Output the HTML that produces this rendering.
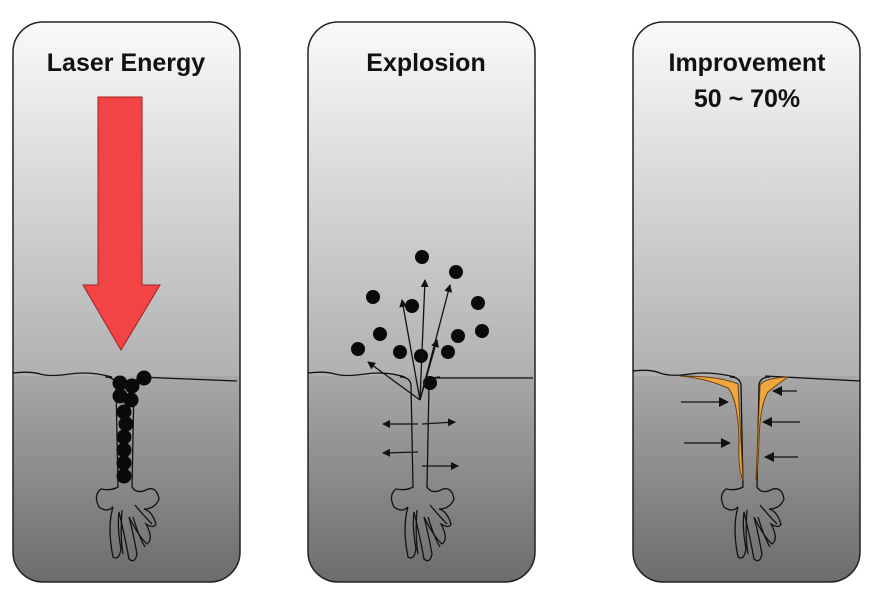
<!DOCTYPE html>
<html><head><style>body{margin:0;background:#fff}svg{display:block}text{font-family:"Liberation Sans",sans-serif;font-weight:bold;fill:#111}</style></head><body>
<svg width="874" height="596" viewBox="0 0 874 596">
<defs>
<linearGradient id="top" x1="0" y1="0" x2="0" y2="1"><stop offset="0" stop-color="#fafafa"/><stop offset="1" stop-color="#b0b0b0"/></linearGradient>
<linearGradient id="bot" x1="0" y1="0" x2="0" y2="1"><stop offset="0" stop-color="#a8a8a8"/><stop offset="1" stop-color="#6c6c6c"/></linearGradient>
<clipPath id="c1"><rect x="13" y="22" width="227" height="560" rx="30"/></clipPath>
<clipPath id="c2"><rect x="308" y="22" width="227" height="560" rx="30"/></clipPath>
<clipPath id="c3"><rect x="633" y="22" width="227" height="560" rx="30"/></clipPath>
<marker id="ah" markerWidth="10" markerHeight="10" refX="9" refY="5" orient="auto" markerUnits="userSpaceOnUse"><path d="M0,0 L10,5 L0,10z" fill="#111"/></marker>
<marker id="ahs" markerWidth="8" markerHeight="8" refX="7" refY="4" orient="auto" markerUnits="userSpaceOnUse"><path d="M0,0 L8,4 L0,8z" fill="#111"/></marker>
<g id="root" fill="none" stroke="#111" stroke-width="1.3">
<path d="M-20,0 Q-10,0 -9,8 L-7,110 Q-14,114 -24,112 Q-32,118 -26,130 Q-18,136 -12,130 Q-18,150 -12,180 Q-6,184 -4,172 Q-8,150 -6,135 Q0,160 4,182 Q10,187 12,177 Q8,155 4,140 Q14,160 22,167 Q29,162 21,147 Q29,152 31,147 Q27,134 19,132 Q30,132 34,122 Q32,110 23,112 Q12,118 7,110 L9,8 Q10,0 20,0"/>
<path d="M-3,133 Q-5,160 -2,177"/><path d="M8,140 Q14,160 20,170"/><path d="M10,128 Q20,140 27,147"/>
</g>
</defs>
<g clip-path="url(#c1)"><rect x="13" y="22" width="227" height="354" fill="url(#top)"/><rect x="13" y="376" width="227" height="206" fill="url(#bot)"/></g>
<g clip-path="url(#c2)"><rect x="308" y="22" width="227" height="354" fill="url(#top)"/><rect x="308" y="376" width="227" height="206" fill="url(#bot)"/></g>
<g clip-path="url(#c3)"><rect x="633" y="22" width="227" height="354" fill="url(#top)"/><rect x="633" y="376" width="227" height="206" fill="url(#bot)"/></g>
<rect x="13" y="22" width="227" height="560" rx="30" fill="none" stroke="#222" stroke-width="1.5"/>
<rect x="308" y="22" width="227" height="560" rx="30" fill="none" stroke="#222" stroke-width="1.5"/>
<rect x="633" y="22" width="227" height="560" rx="30" fill="none" stroke="#222" stroke-width="1.5"/>
<text x="126" y="71" font-size="25" text-anchor="middle">Laser Energy</text>
<text x="426" y="71" font-size="25" text-anchor="middle">Explosion</text>
<text x="747" y="71" font-size="25" text-anchor="middle">Improvement</text>
<text x="747" y="107" font-size="25" text-anchor="middle">50 ~ 70%</text>
<path d="M13,373 Q30,371 40,374 T70,374 T112,377" fill="none" stroke="#111" stroke-width="1.3"/><path d="M138,377 L237,381" stroke="#111" stroke-width="1.3"/>
<path d="M308,373 Q325,371 335,374 T365,374 T405,377" fill="none" stroke="#111" stroke-width="1.3"/><path d="M435,378 L533,378" stroke="#111" stroke-width="1.3"/>
<path d="M633,371 Q650,369 660,373 T690,374 T735,377" fill="none" stroke="#111" stroke-width="1.3"/><path d="M765,376 L860,381" stroke="#111" stroke-width="1.3"/>
<path d="M98,97 L142,97 L142,285 L160,285 L121,350 L83,285 L98,285z" fill="#f24444" stroke="#a02020" stroke-width="1"/>
<use href="#root" x="125" y="377"/>
<use href="#root" x="420" y="377"/>
<use href="#root" x="750" y="377"/>
<g fill="#0a0a0a">
<circle cx="120" cy="383" r="7.5"/><circle cx="132" cy="386" r="7.5"/><circle cx="144" cy="378" r="7.5"/><circle cx="120" cy="396" r="7.5"/><circle cx="131" cy="400" r="7.5"/><circle cx="124" cy="412" r="7.5"/><circle cx="126" cy="424" r="7.5"/><circle cx="124" cy="437" r="7.5"/><circle cx="124" cy="450" r="7.5"/><circle cx="124" cy="463" r="7.5"/><circle cx="124" cy="476" r="7.5"/>
</g>
<g fill="#0a0a0a">
<circle cx="422" cy="257" r="7"/><circle cx="456" cy="272" r="7"/><circle cx="373" cy="297" r="7"/><circle cx="478" cy="303" r="7"/><circle cx="412" cy="306" r="7"/><circle cx="380" cy="334" r="7"/><circle cx="482" cy="331" r="7"/><circle cx="458" cy="336" r="7"/><circle cx="358" cy="349" r="7"/><circle cx="400" cy="352" r="7"/><circle cx="421" cy="356" r="7"/><circle cx="448" cy="352" r="7"/><circle cx="430" cy="383" r="7"/>
</g>
<g stroke="#111" stroke-width="1.3" fill="none" marker-end="url(#ahs)">
<path d="M420,400 L368,362"/><path d="M420,400 L402,300"/><path d="M420,400 L425,280"/><path d="M420,400 L450,285"/><path d="M420,400 L437,340"/>
<path d="M418,424 L383,424"/><path d="M422,424 L455,422"/><path d="M418,452 L383,453"/><path d="M422,466 L458,466"/>
</g>
<path d="M680,376 Q720,376 738,384 L743,480 Q738,470 739,440 Q738,400 728,388 Q705,378 680,376z" fill="#f2a640" stroke="#6a4010" stroke-width="1"/>
<path d="M788,377 Q765,378 760,385 L756,480 Q758,470 759,440 Q760,405 768,392 Q778,384 788,377z" fill="#f2a640" stroke="#6a4010" stroke-width="1"/>
<g stroke="#111" stroke-width="1.3" marker-end="url(#ah)">
<path d="M681,402 L728,402"/><path d="M684,443 L730,443"/><path d="M797,391 L773,391"/><path d="M800,422 L763,422"/><path d="M798,457 L765,457"/>
</g>
</svg>
</body></html>
